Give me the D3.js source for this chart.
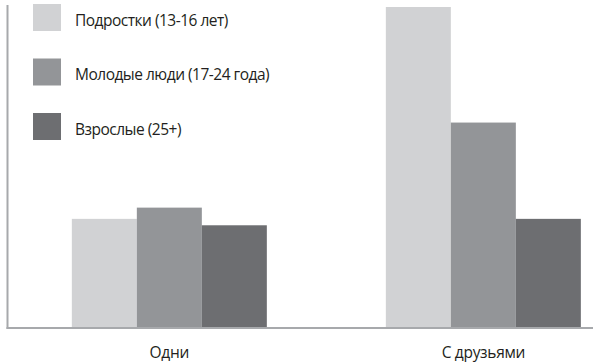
<!DOCTYPE html>
<html>
<head>
<meta charset="utf-8">
<script src="https://cdn.jsdelivr.net/npm/d3@7"></script>
<style>
  body { margin: 0; background: #fff; }
  svg { display: block; }
</style>
</head>
<body>
<svg id="chart" width="597" height="363"></svg>
<script>
// data (relative units, tallest bar = 100)
var categories = ["Одни", "С друзьями"];
var series = ["Подростки (13-16 лет)", "Молодые люди (17-24 года)", "Взрослые (25+)"];
var teens = [34, 100];
var young = [37.5, 64];
var adults = [32, 34];
var colors = ["#d1d2d4", "#939598", "#6d6e71"];

var values = [teens, young, adults];

var svg = d3.select("#chart");
var W = 597, H = 363;

var margins = { top: 7, bottom: 35, left: 8, right: 4 };
var baseY = 328;
var font = "'Open Sans', sans-serif";

var x = d3.scaleBand()
    .domain(categories)
    .range([margins.left, W - margins.right])
    .paddingInner(0.379)
    .paddingOuter(0.121)
    .align(0.84);

var x1 = d3.scaleBand()
    .domain(series)
    .range([0, x.bandwidth()]);

var y = d3.scaleLinear()
    .domain([0, 100])
    .range([baseY, margins.top]);

var color = d3.scaleOrdinal().domain(series).range(colors);

// bars
var groups = svg.selectAll(".group")
    .data(categories)
    .enter().append("g")
    .attr("class", "group")
    .attr("transform", function (d) { return "translate(" + x(d) + ",0)"; });

groups.selectAll("rect")
    .data(function (c, ci) {
        return series.map(function (s, si) { return { s: s, v: values[si][ci] }; });
    })
    .enter().append("rect")
    .attr("x", function (d) { return x1(d.s); })
    .attr("width", x1.bandwidth())
    .attr("y", function (d) { return y(d.v); })
    .attr("height", function (d) { return baseY - y(d.v); })
    .style("fill", function (d) { return color(d.s); });

// axes lines (no ticks)
svg.append("line")
    .attr("x1", 7.5).attr("x2", 7.5)
    .attr("y1", 5).attr("y2", baseY + 1)
    .style("stroke", "#a7a9ac").style("stroke-width", 2);

svg.append("line")
    .attr("x1", 6.5).attr("x2", 593)
    .attr("y1", baseY).attr("y2", baseY)
    .style("stroke", "#a7a9ac").style("stroke-width", 2);

// category labels
var xAxis = svg.append("g")
    .attr("transform", "translate(0," + baseY + ")")
    .call(d3.axisBottom(x).tickSize(0).tickPadding(19));
xAxis.select(".domain").remove();
xAxis.selectAll("text")
    .style("font-family", font)
    .style("font-size", "15.5px")
    .style("letter-spacing", "-0.3px")
    .style("fill", "#231f20");

// legend
var legend_dims = { left: 33, top: 4, rect_size: 27, pitch: 54.5 };

var legend = svg.selectAll(".legend")
    .data(series)
    .enter().append("g")
    .attr("class", "legend")
    .attr("transform", function (_, i) {
        return "translate(0," + (legend_dims.top + i * legend_dims.pitch) + ")";
    });

legend.append("rect")
    .attr("x", legend_dims.left)
    .attr("width", 28)
    .attr("height", legend_dims.rect_size)
    .style("fill", function (d) { return color(d); });

legend.append("text")
    .attr("x", 75)
    .attr("y", 16.5)
    .attr("dy", ".35em")
    .style("font-family", font)
    .style("font-size", "15.5px")
    .style("letter-spacing", "-0.5px")
    .style("fill", "#231f20")
    .text(function (d) { return d; });
</script>
</body>
</html>
